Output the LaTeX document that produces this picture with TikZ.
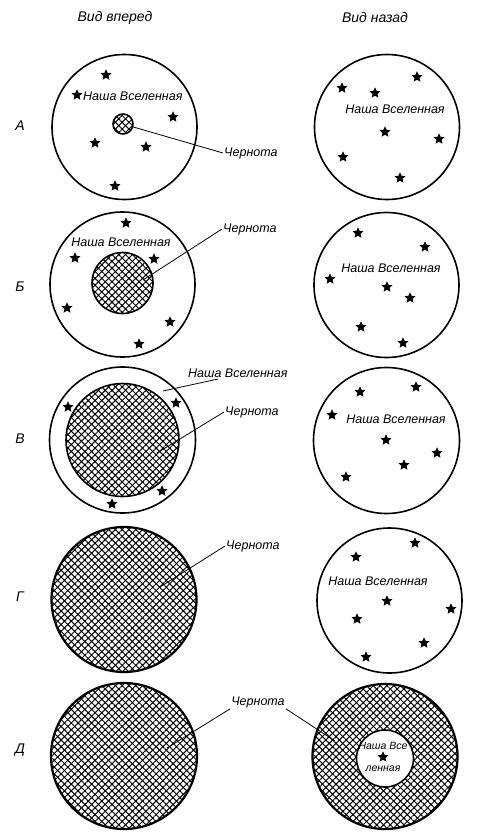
\documentclass[tikz,border=0pt]{standalone}
\usepackage{fontspec}
\setmainfont{Liberation Sans}
\usetikzlibrary{shapes.geometric, patterns.meta}

\begin{document}
\begin{tikzpicture}[
    x=1pt, y=-1pt,
    sky/.style={draw, circle, line width=1.6pt, inner sep=0pt},
    dark/.style={draw, circle, line width=1.6pt, inner sep=0pt,
                 pattern={Lines[angle=45, distance=4.8pt, line width=1pt]},
                 postaction={pattern={Lines[angle=-45, distance=4.8pt, line width=1pt]}}},
    hole/.style={draw, circle, line width=1.6pt, inner sep=0pt, fill=white},
    starnode/.style={star, star points=5, star point ratio=2.1, fill,
                     inner sep=0pt, minimum size=11.5pt},
    lbl/.style={font=\itshape\fontsize{12.5}{14}\selectfont, inner sep=1pt},
    small/.style={font=\itshape\fontsize{10.5}{12}\selectfont, inner sep=0pt},
    head/.style={font=\itshape\fontsize{14}{16}\selectfont},
    leader/.style={line width=.8pt}
  ]
  \useasboundingbox (0,0) rectangle (478,835);

  % headings
  \node[head] (hFwd) at (115,18) {Вид вперед};
  \node[head] (hBack) at (375,17) {Вид назад};
  \foreach \t/\y [count=\i] in {А/126, Б/287, В/439, Г/597, Д/750}
    \node[head] (row\i) at (20,\y) {\t};

  % row A
  \node[sky, minimum size=145pt] (uA) at (124.5,127) {};
  \node[dark, minimum size=20pt] (cA) at (123,124) {};
  \node[lbl, anchor=west] (nA) at (82,96) {Наша Вселенная};
  \node[lbl, anchor=west] (tA) at (223,153) {Чернота};
  \draw[leader] (cA) -- (tA.west);
  \foreach \p [count=\i] in {(106,75),(77,95),(173,117),(95,143),(146,147),(115,186)}
    \node[starnode] (sA\i) at \p {};
  \node[sky, minimum size=145pt] (vA) at (387,127) {};
  \node[lbl] (mA) at (395,109) {Наша Вселенная};
  \foreach \p [count=\i] in {(342,88),(375,93),(417,77),(385,132),(439,139),(343,157),(400,178)}
    \node[starnode] (rA\i) at \p {};

  % row B
  \node[sky, minimum size=145pt] (uB) at (122.5,284.5) {};
  \node[dark, minimum size=61pt] (cB) at (122.5,283) {};
  \node[lbl] (nB) at (121,242) {Наша Вселенная};
  \node[lbl, anchor=west] (tB) at (222,229) {Чернота};
  \coordinate (pB) at (143,280);
  \draw[leader] (pB) -- (tB.west);
  \foreach \p [count=\i] in {(126,223),(75,258),(154,259),(67,308),(170,322),(139,344)}
    \node[starnode] (sB\i) at \p {};
  \node[sky, minimum size=145pt] (vB) at (386.5,285) {};
  \node[lbl] (mB) at (391,268) {Наша Вселенная};
  \foreach \p [count=\i] in {(358,233),(425,247),(330,279),(387,287),(410,298),(361,327),(403,343)}
    \node[starnode] (rB\i) at \p {};

  % row C
  \node[sky, minimum size=146pt] (uC) at (122.5,440) {};
  \node[dark, minimum size=113pt] (cC) at (122.5,440) {};
  \node[lbl, anchor=south west] (nC) at (187,379) {Наша Вселенная};
  \node[lbl, anchor=west] (tC) at (224,412) {Чернота};
  \coordinate (qC) at (163,391);
  \coordinate (pC) at (157,453);
  \draw[leader] (qC) -- ([xshift=31pt]nC.south west);
  \draw[leader] (pC) -- (tC.west);
  \foreach \p [count=\i] in {(68,407),(176,403),(162,491),(112,504)}
    \node[starnode] (sC\i) at \p {};
  \node[sky, minimum size=146pt] (vC) at (386.5,440.5) {};
  \node[lbl] (mC) at (396,419) {Наша Вселенная};
  \foreach \p [count=\i] in {(360,392),(416,387),(332,415),(386,440),(437,453),(404,465),(346,477)}
    \node[starnode] (rC\i) at \p {};

  % row D
  \node[dark, line width=2.2pt, minimum size=145pt] (cD) at (124,599.5) {};
  \node[lbl, anchor=west] (tD) at (225,546) {Чернота};
  \coordinate (pD) at (160,587);
  \draw[leader] (pD) -- (tD.west);
  \node[sky, minimum size=145pt] (vD) at (389.5,600.5) {};
  \node[lbl] (mD) at (378,581) {Наша Вселенная};
  \foreach \p [count=\i] in {(356,557),(415,543),(387,601),(451,609),(357,619),(424,643),(366,657)}
    \node[starnode] (rD\i) at \p {};

  % row E
  \node[dark, line width=2.2pt, minimum size=146pt] (cE) at (124,756) {};
  \node[dark, line width=2.2pt, minimum size=145pt] (vE) at (385,756.5) {};
  \node[hole, minimum size=57pt] (hE) at (385,758.5) {};
  \node[lbl] (tE) at (258,702) {Чернота};
  \coordinate (pE) at (167,748);
  \coordinate (qE) at (335,741);
  \draw[leader] (pE) -- (tE.south west);
  \draw[leader] (tE.south east) -- (qE);
  \node[small] (nE1) at (383,746) {Наша Все};
  \node[starnode] (rE1) at (383,757) {};
  \node[small] (nE2) at (383,769) {ленная};
\end{tikzpicture}
\end{document}
